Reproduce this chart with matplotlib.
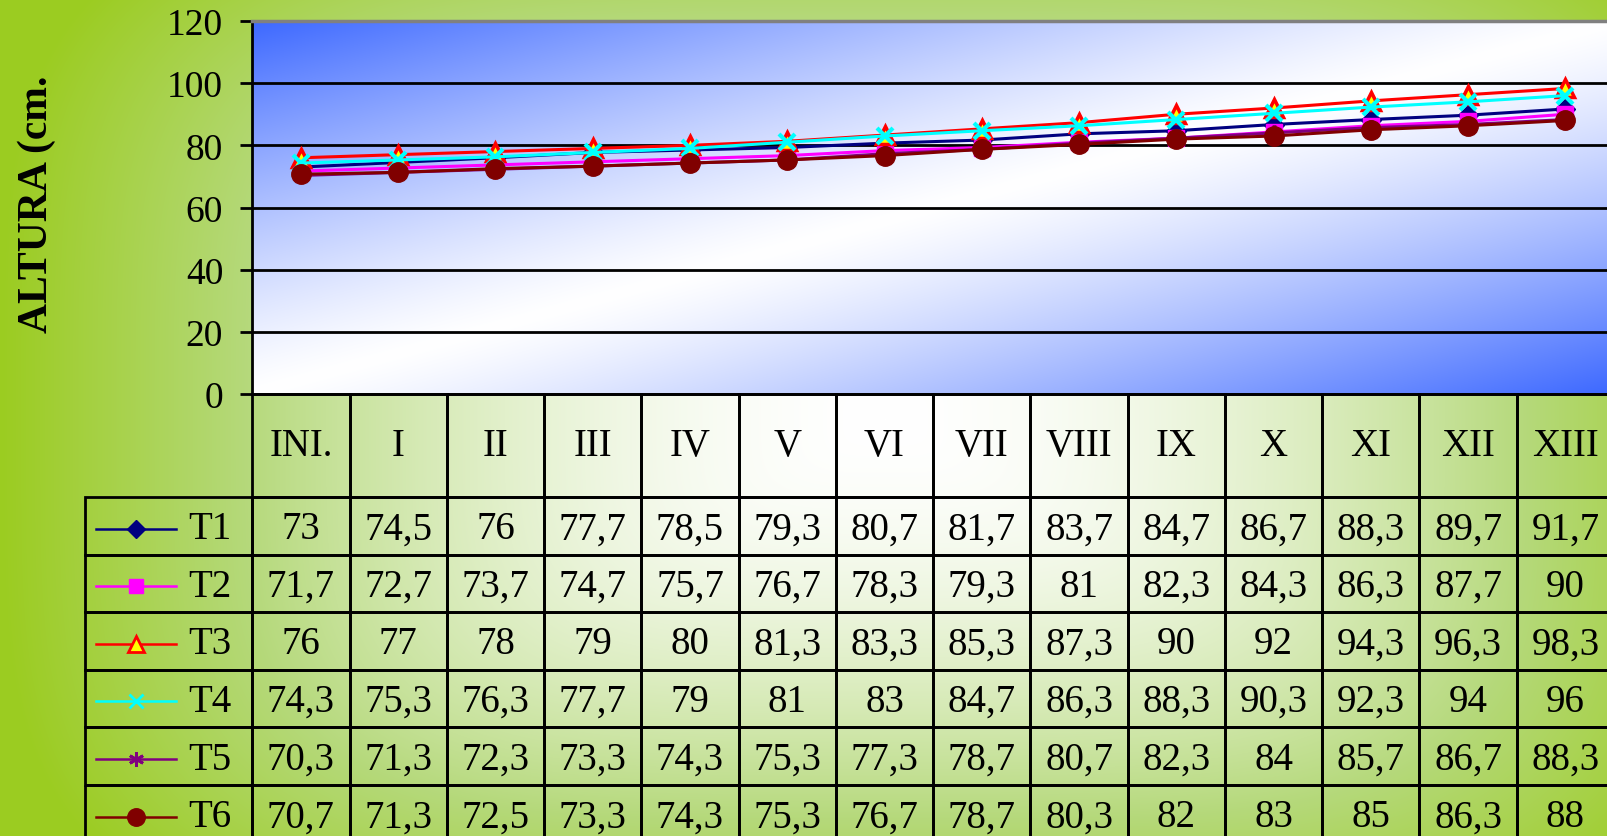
import numpy as np
import matplotlib
matplotlib.use("Agg")
import matplotlib.pyplot as plt
from matplotlib.patches import Rectangle

plt.rcParams['font.family'] = ['Liberation Serif', 'DejaVu Serif']

W, H = 1607, 837

categories = ["INI.", "I", "II", "III", "IV", "V", "VI", "VII",
              "VIII", "IX", "X", "XI", "XII", "XIII"]
series_names = ["T1", "T2", "T3", "T4", "T5", "T6"]

t1 = [73, 74.5, 76, 77.7, 78.5, 79.3, 80.7, 81.7, 83.7, 84.7, 86.7, 88.3, 89.7, 91.7]
t2 = [71.7, 72.7, 73.7, 74.7, 75.7, 76.7, 78.3, 79.3, 81, 82.3, 84.3, 86.3, 87.7, 90]
t3 = [76, 77, 78, 79, 80, 81.3, 83.3, 85.3, 87.3, 90, 92, 94.3, 96.3, 98.3]
t4 = [74.3, 75.3, 76.3, 77.7, 79, 81, 83, 84.7, 86.3, 88.3, 90.3, 92.3, 94, 96]
t5 = [70.3, 71.3, 72.3, 73.3, 74.3, 75.3, 77.3, 78.7, 80.7, 82.3, 84, 85.7, 86.7, 88.3]
t6 = [70.7, 71.3, 72.5, 73.3, 74.3, 75.3, 76.7, 78.7, 80.3, 82, 83, 85, 86.3, 88]
series = [t1, t2, t3, t4, t5, t6]

yticks = [0, 20, 40, 60, 80, 100, 120]

# marker styles per series (Excel look)
styles = [
    dict(color="#000080", marker="D", ms=10, mfc="#000080", mec="#000080", mew=1),
    dict(color="#ff00ff", marker="s", ms=11, mfc="#ff00ff", mec="#ff00ff", mew=1),
    dict(color="#ff0000", marker="^", ms=13, mfc="#ffff00", mec="#ff0000", mew=2.5),
    dict(color="#00ffff", marker="x", ms=11, mfc="#00ffff", mec="#00ffff", mew=3),
    dict(color="#800080", marker=(6, 2, 0), ms=12, mfc="#800080", mec="#800080", mew=2.5),
    dict(color="#800000", marker="o", ms=14, mfc="#800000", mec="#800000", mew=1),
]

fig = plt.figure(figsize=(W / 100, H / 100), dpi=100)

# green chart-area background
yy, xx = np.mgrid[0:H, 0:W]
d = ((np.abs(xx - 885) / 640) ** 4 + (np.abs(yy - 420) / 400) ** 4) ** 0.25
f1 = np.clip(d, 0, 1) ** 1.8
f2 = np.clip((d - 1) / 0.38, 0, 1)
white = np.array([1.0, 1.0, 1.0])
edge = np.array([0.71, 0.85, 0.48])
deep = np.array([0.61, 0.80, 0.13])
bg = white * (1 - f1)[..., None] + edge * f1[..., None]
bg = bg * (1 - f2)[..., None] + deep * f2[..., None]
bax = fig.add_axes([0, 0, 1, 1], zorder=-10)
bax.imshow(bg, extent=[0, W, H, 0], aspect="auto")
bax.axis("off")

# plot area
left_px, right_px = 252.3, 1614
top_px, zero_px = 22, 395
ax = fig.add_axes([left_px / W, (H - zero_px) / H,
                   (right_px - left_px) / W, (zero_px - top_px) / H])

u = np.linspace(0, 1, 600)
v = np.linspace(1, 0, 200)
s = np.abs(u[None, :] - v[:, None]) ** 1.25
blue = np.array([0.24, 0.41, 1.0])
grad = white * (1 - s)[..., None] + blue * s[..., None]
ax.imshow(grad, extent=(-0.5, 13.5, 0, 120), aspect="auto", zorder=0,
          interpolation="bilinear")

for t in yticks[1:-1]:
    ax.axhline(t, color="black", lw=2, zorder=1)

x = np.arange(len(categories))
for vals, st in zip(series, styles):
    ax.plot(x, vals, lw=2.2, zorder=3, clip_on=False, **st)

ax.set_xlim(-0.5, 13.5)
ax.set_ylim(0, 120)
ax.set_yticks(yticks)
ax.set_xticks([])
ax.tick_params(axis="y", length=9, width=2, direction="out", pad=12, labelsize=27)
ax.spines["right"].set_visible(False)
ax.spines["left"].set_linewidth(2)
ax.spines["bottom"].set_linewidth(2)
ax.spines["top"].set_color("#808080")
ax.spines["top"].set_linewidth(2.5)

fig.text(37 / W, 1 - 204 / H, "ALTURA (cm.", rotation=90, fontsize=30,
         fontweight="bold", ha="center", va="center")

# data table
row_h = 57.6
head_h = 103
bottom_px = zero_px + head_h + 6 * row_h
tax = fig.add_axes([left_px / W, (H - bottom_px) / H,
                    (right_px - left_px) / W, (bottom_px - zero_px) / H])
hh = head_h / row_h
tax.set_xlim(-0.5, 13.5)
tax.set_ylim(hh + 6, 0)
tax.axis("off")

colw = (right_px - left_px) / 14
leg_w = (left_px - 85) / colw
txt_kw = dict(fontsize=28, ha="center", va="center")

for j, cat in enumerate(categories):
    tax.add_patch(Rectangle((j - 0.5, 0), 1, hh, fill=False, ec="black",
                            lw=2, clip_on=False))
    tax.text(j, hh / 2, cat, **txt_kw)

for i, (name, vals, st) in enumerate(zip(series_names, series, styles)):
    y0 = hh + i
    yc = y0 + 0.55
    tax.add_patch(Rectangle((-0.5 - leg_w, y0), leg_w, 1, fill=False,
                            ec="black", lw=2, clip_on=False))
    lx0 = (96 - left_px) / colw - 0.5
    lx1 = (176 - left_px) / colw - 0.5
    tax.plot([lx0, lx1], [yc, yc], color=st["color"], lw=1.8, clip_on=False)
    mst = dict(st)
    mst["ms"] = st["ms"] * 0.9
    mst["mew"] = min(st["mew"], 2)
    mst.pop("color")
    tax.plot([(lx0 + lx1) / 2], [yc], color=st["color"], lw=0,
             clip_on=False, **mst)
    tax.text((188 - left_px) / colw - 0.5, yc, name, fontsize=28,
             ha="left", va="center")
    for j, val in enumerate(vals):
        tax.add_patch(Rectangle((j - 0.5, y0), 1, 1, fill=False, ec="black",
                                lw=2, clip_on=False))
        tax.text(j, yc, f"{val:g}".replace(".", ","), **txt_kw)

fig.savefig("out.png", dpi=100)
